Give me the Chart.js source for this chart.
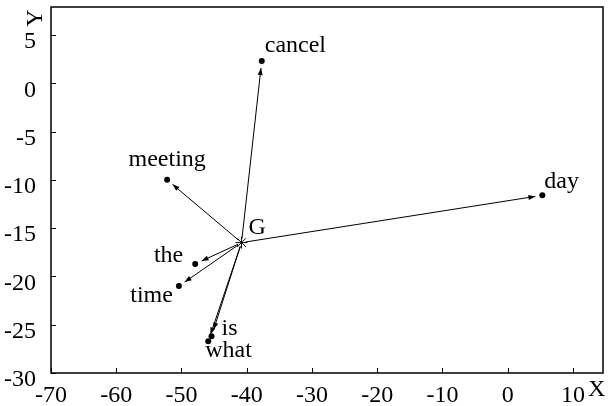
<!DOCTYPE html>
<html>
<head>
<meta charset="utf-8">
<script src="https://cdn.jsdelivr.net/npm/chart.js@4.4.0/dist/chart.umd.min.js"></script>
<style>
  html, body { margin: 0; padding: 0; background: #fff; }
  #wrap { width: 610px; height: 406px; }
</style>
</head>
<body>
<div id="wrap"><canvas id="chart"></canvas></div>
<script>
// word vectors
const words = ['cancel', 'meeting', 'day', 'the', 'time', 'is', 'what'];
const wordX = [-37.7, -52.2, 5.3, -47.9, -50.4, -45.4, -45.9];
const wordY = [2.3, -10.0, -11.6, -18.7, -21.0, -26.2, -26.7];

const centerName = 'G';
const centerX = -40.8;
const centerY = -16.5;

const xTicks = [-70, -60, -50, -40, -30, -20, -10, 0, 10];
const yTicks = [-30, -25, -20, -15, -10, -5, 0, 5];

// where each label sits relative to its dot (px) and how it is aligned
const labelPlace = {
  cancel:  { dx: 3,   dy: -15, align: 'left' },
  meeting: { dx: 0,   dy: -20, align: 'center' },
  day:     { dx: 2,   dy: -14, align: 'left' },
  the:     { dx: -12, dy: -8,  align: 'right' },
  time:    { dx: -6,  dy: 10,  align: 'right' },
  is:      { dx: 10,  dy: -8,  align: 'left' },
  what:    { dx: -3,  dy: 10,  align: 'left' },
  G:       { dx: 7,   dy: -15, align: 'left' }
};

const FONT = '"Liberation Serif", "DejaVu Serif", serif';
const SIZE = 24;

const frameAndTicks = {
  id: 'frameAndTicks',
  afterDraw(chart) {
    const { ctx, chartArea: a, scales: { x, y } } = chart;
    ctx.save();
    ctx.strokeStyle = '#000';
    ctx.lineWidth = 1.5;
    ctx.strokeRect(a.left, a.top, a.right - a.left, a.bottom - a.top);
    ctx.lineWidth = 1;
    ctx.beginPath();
    xTicks.forEach(v => {
      const px = Math.round(x.getPixelForValue(v)) + 0.5;
      ctx.moveTo(px, a.bottom);
      ctx.lineTo(px, a.bottom - 5);
    });
    yTicks.forEach(v => {
      const py = Math.round(y.getPixelForValue(v)) + 0.5;
      ctx.moveTo(a.left, py);
      ctx.lineTo(a.left + 5, py);
    });
    ctx.stroke();

    // axis titles
    ctx.fillStyle = '#000';
    ctx.font = SIZE + 'px ' + FONT;
    ctx.textAlign = 'left';
    ctx.textBaseline = 'middle';
    ctx.fillText('X', x.getPixelForValue(10) + 15, a.bottom + 17);
    ctx.save();
    ctx.translate(36, a.top + 11);
    ctx.rotate(-Math.PI / 2);
    ctx.textAlign = 'center';
    ctx.fillText('Y', 0, 0);
    ctx.restore();
    ctx.restore();
  }
};

const arrowsAndLabels = {
  id: 'arrowsAndLabels',
  afterDatasetsDraw(chart) {
    const { ctx, scales: { x, y } } = chart;
    const gx = x.getPixelForValue(centerX);
    const gy = y.getPixelForValue(centerY);
    ctx.save();
    ctx.strokeStyle = '#000';
    ctx.fillStyle = '#000';
    ctx.lineWidth = 1;
    words.forEach((w, i) => {
      const tx = x.getPixelForValue(wordX[i]);
      const ty = y.getPixelForValue(wordY[i]);
      const ang = Math.atan2(ty - gy, tx - gx);
      const len = Math.hypot(tx - gx, ty - gy);
      const sx = gx + Math.cos(ang) * 4, sy = gy + Math.sin(ang) * 4;
      const ex = gx + Math.cos(ang) * (len - 7), ey = gy + Math.sin(ang) * (len - 7);
      ctx.beginPath();
      ctx.moveTo(sx, sy);
      ctx.lineTo(ex, ey);
      ctx.stroke();
      const hl = 7, hw = 2.5;
      ctx.beginPath();
      ctx.moveTo(ex, ey);
      ctx.lineTo(ex - Math.cos(ang) * hl - Math.sin(ang) * hw, ey - Math.sin(ang) * hl + Math.cos(ang) * hw);
      ctx.lineTo(ex - Math.cos(ang) * hl + Math.sin(ang) * hw, ey - Math.sin(ang) * hl - Math.cos(ang) * hw);
      ctx.closePath();
      ctx.fill();
    });

    ctx.font = SIZE + 'px ' + FONT;
    ctx.textBaseline = 'middle';
    words.concat([centerName]).forEach((w, i) => {
      const p = labelPlace[w];
      const vx = i < words.length ? wordX[i] : centerX;
      const vy = i < words.length ? wordY[i] : centerY;
      ctx.textAlign = p.align;
      ctx.fillText(w, x.getPixelForValue(vx) + p.dx, y.getPixelForValue(vy) + p.dy);
    });
    ctx.restore();
  }
};

new Chart(document.getElementById('chart'), {
  type: 'scatter',
  data: {
    datasets: [
      {
        data: words.map((w, i) => ({ x: wordX[i], y: wordY[i] })),
        pointRadius: 3,
        pointBackgroundColor: '#000',
        pointBorderColor: '#000',
        pointBorderWidth: 0
      },
      {
        data: [{ x: centerX, y: centerY }],
        pointStyle: 'star',
        pointRadius: 6,
        pointBorderColor: '#000',
        pointBorderWidth: 1
      }
    ]
  },
  options: {
    responsive: true,
    maintainAspectRatio: false,
    animation: false,
    layout: { padding: { top: 6, right: 3, left: 0, bottom: 0 } },
    plugins: { legend: { display: false }, tooltip: { enabled: false } },
    scales: {
      x: {
        type: 'linear',
        min: -70,
        max: 14.6,
        afterBuildTicks: s => { s.ticks = xTicks.map(v => ({ value: v })); },
        afterFit: s => { s.height = 33; s.paddingLeft = 0; s.paddingRight = 0; },
        grid: { display: false },
        border: { display: false },
        ticks: { color: '#000', padding: 0, maxRotation: 0, autoSkip: false, font: { family: FONT, size: SIZE } }
      },
      y: {
        min: -30,
        max: 7.9,
        afterBuildTicks: s => { s.ticks = yTicks.map(v => ({ value: v })); },
        afterFit: s => { s.width = 51; s.paddingTop = 0; s.paddingBottom = 0; },
        grid: { display: false },
        border: { display: false },
        ticks: { color: '#000', padding: 7, labelOffset: 7, autoSkip: false, font: { family: FONT, size: SIZE } }
      }
    }
  },
  plugins: [frameAndTicks, arrowsAndLabels]
});
</script>
</body>
</html>
